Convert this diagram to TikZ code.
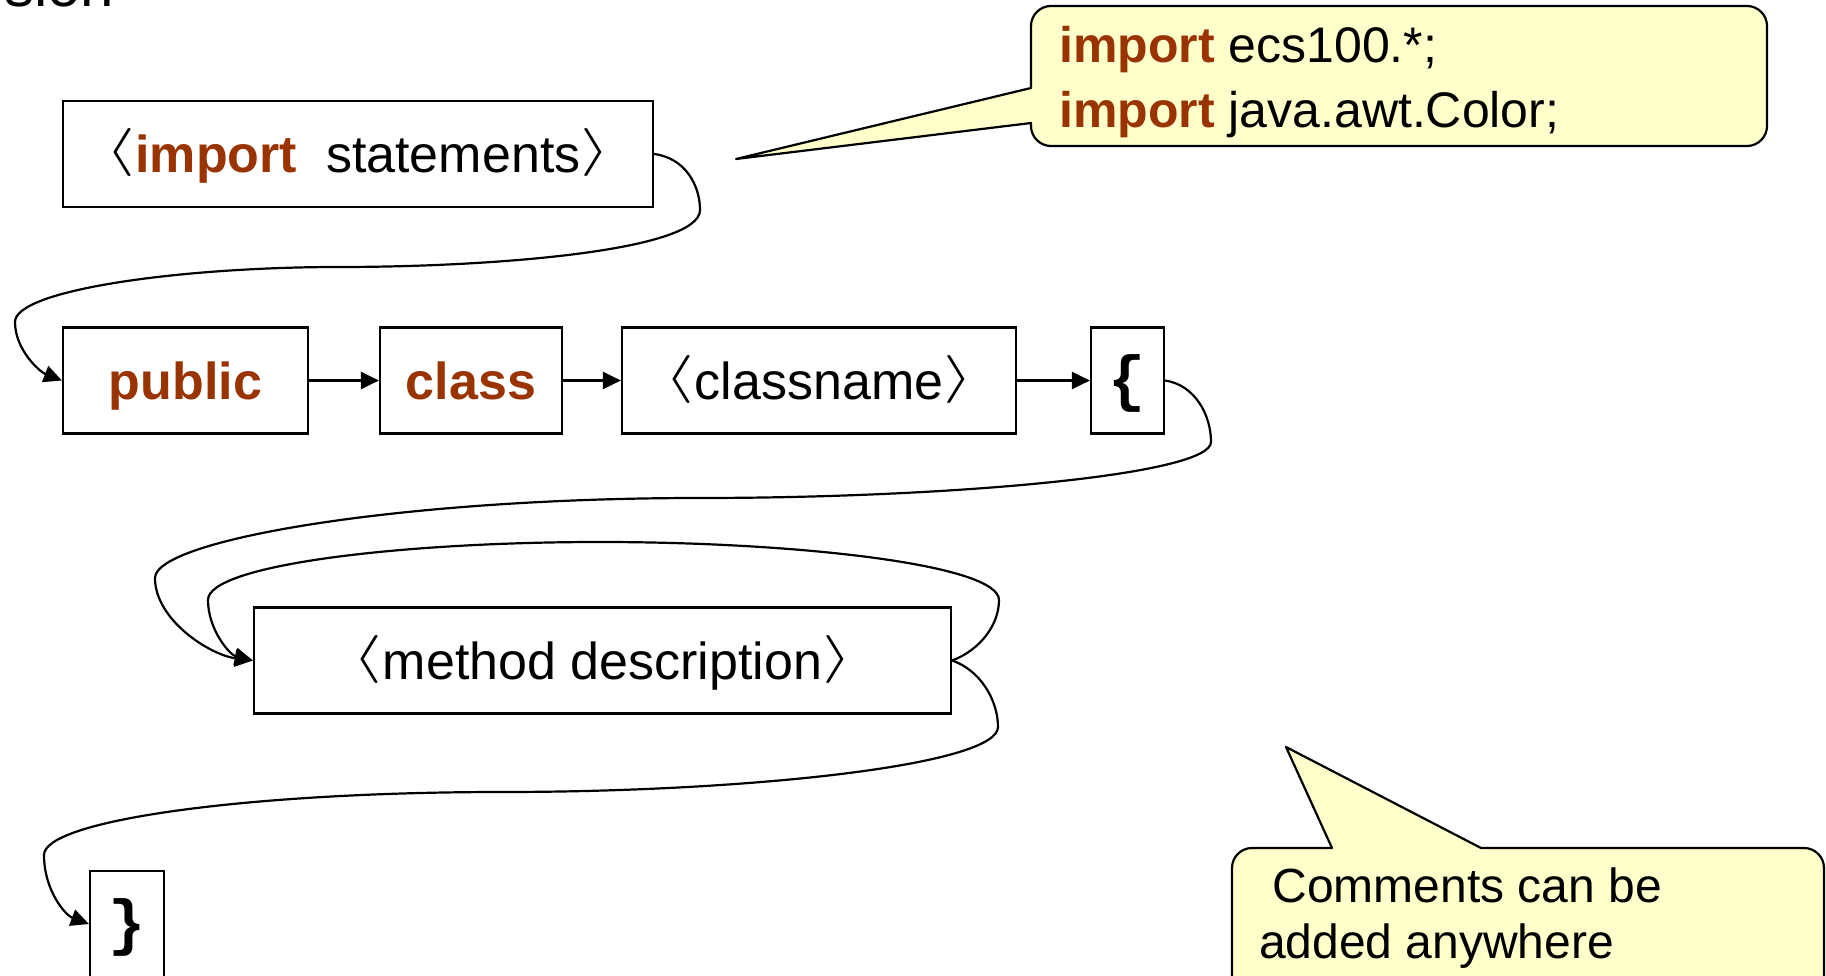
\documentclass[tikz,border=0pt]{standalone}
\usepackage{fontspec}
\setmainfont{Liberation Sans}
\newfontfamily\bracefont{Liberation Mono}
\usetikzlibrary{arrows.meta}
\definecolor{kw}{HTML}{993300}
\definecolor{note}{HTML}{FFFFCC}
\DeclareFontFamily{OMS}{mysy}{}
\DeclareFontShape{OMS}{mysy}{m}{n}{<->cmsy10}{}
\newcommand\angfont{\fontencoding{OMS}\fontfamily{mysy}\fontseries{m}\fontshape{n}\fontsize{48}{50}\selectfont}
\newcommand\myla{\raisebox{8pt}{\scalebox{1.6}[1]{\angfont\char"68}}}
\newcommand\myra{\raisebox{8pt}{\scalebox{1.6}[1]{\angfont\char"69}}}
\newcommand\kwd[1]{\textbf{\color{kw}#1}}
\begin{document}
\begin{tikzpicture}[x=1pt,y=-1pt,
  box/.style={draw, line width=2.2pt, fill=white, inner sep=0pt, text height=38pt, text depth=0pt,
    minimum height=106pt, font=\fontsize{52}{60}\selectfont},
  conn/.style={line width=2.2pt, -{Triangle[length=18pt,width=17pt]}},
  callout/.style={draw, line width=2.2pt, fill=note, line join=round},
  ctext/.style={inner sep=0pt, anchor=base west, font=\fontsize{50}{60}\selectfont},
  ctextb/.style={inner sep=0pt, anchor=base west, font=\fontsize{48}{56}\selectfont},
  brace/.style={font=\bracefont\bfseries\fontsize{62}{70}\selectfont}
]
\path[use as bounding box, clip] (0,0) rectangle (1826,976);

% cut-off title text
\node[inner sep=0pt, anchor=base west, font=\fontsize{60}{70}\selectfont] (title) at (4,7) {sion};

% boxes
\node[box, minimum width=590pt] (imp) at (358,154) {\myla\kwd{import}\ \ statements\myra};
\node[box, minimum width=245pt] (pub) at (185.5,380.5) {\kwd{public}};
\node[box, minimum width=182pt] (cls) at (471,380.5) {\kwd{class}};
\node[box, minimum width=394pt] (cn) at (819,380.5) {\myla classname\myra};
\node[box, brace, minimum width=73pt] (lb) at (1127.5,380.5) {\{};
\node[box, minimum width=697pt] (mth) at (602.5,660.5) {\myla method description\myra};
\node[box, brace, minimum width=74pt] (rb) at (127,924) {\}};

% straight connectors
\draw[conn] (pub.east) -- (cls.west);
\draw[conn] (cls.east) -- (cn.west);
\draw[conn] (cn.east) -- (lb.west);

% curved connectors
\draw[conn] (imp.east) .. controls (685,158) and (700,185) .. (700,210)
  .. controls (700,250) and (500,267) .. (339,267)
  .. controls (180,267) and (15,290) .. (15,322)
  .. controls (15,350) and (40,372) .. (pub.west);
\draw[conn] (lb.east) .. controls (1195,385) and (1211,415) .. (1211,442)
  .. controls (1211,475) and (950,498) .. (699,498)
  .. controls (400,498) and (155,540) .. (155,578)
  .. controls (155,620) and (210,655) .. (mth.west);
\draw[conn] (mth.east) .. controls (980,650) and (999,625) .. (999,600)
  .. controls (999,565) and (800,542) .. (600,542)
  .. controls (400,542) and (208,565) .. (208,600)
  .. controls (208,630) and (230,655) .. (mth.west);
\draw[conn] (mth.east) .. controls (980,670) and (998,700) .. (998,727)
  .. controls (998,765) and (750,792) .. (502,792)
  .. controls (250,792) and (44,820) .. (44,855)
  .. controls (44,890) and (65,915) .. (rb.west);

% callout 1
\coordinate (t1) at (736,159);
\draw[callout] (t1) -- (1031,88) -- (1031,26) .. controls (1031,15) and (1040,6) .. (1051,6)
  -- (1747,6) .. controls (1758,6) and (1767,15) .. (1767,26)
  -- (1767,126) .. controls (1767,137) and (1758,146) .. (1747,146)
  -- (1051,146) .. controls (1040,146) and (1031,137) .. (1031,126)
  -- (1031,123) -- cycle;
\node[ctext] (c1a) at (1059,63) {\kwd{import} ecs100.*;};
\node[ctext] (c1b) at (1059,128) {\kwd{import} java.awt.Color;};

% callout 2
\coordinate (t2) at (1286,747);
\draw[callout] (t2) -- (1481,848) -- (1804,848) .. controls (1815,848) and (1824,857) .. (1824,868)
  -- (1824,1040) -- (1232,1040) -- (1232,868) .. controls (1232,857) and (1241,848) .. (1252,848)
  -- (1332,848) -- cycle;
\node[ctextb] (c2a) at (1259,902) {\ Comments can be};
\node[ctextb] (c2b) at (1259,958) {added anywhere};
\end{tikzpicture}
\end{document}
